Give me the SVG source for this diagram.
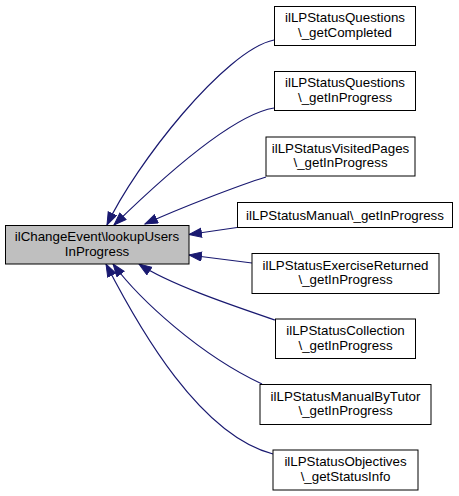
<svg xmlns="http://www.w3.org/2000/svg" width="459" height="496" viewBox="0 0 459 496">
<defs>
<marker id="ah" markerUnits="userSpaceOnUse" markerWidth="15" markerHeight="11" refX="13" refY="5" orient="auto">
<path d="M0.5,0.5 L13,5 L0.5,9.5 z" fill="#191970" stroke="#191970" stroke-width="1"/>
</marker>
<style>
.n rect{fill:#ffffff;stroke:#000000;stroke-width:1}
.m rect{fill:#bfbfbf;stroke:#000000;stroke-width:1}
text{font-family:"Liberation Sans",Arial,Helvetica,sans-serif;font-size:13.33px;fill:#000000;text-anchor:middle}
.e path{fill:none;stroke:#191970;stroke-width:1.2;marker-end:url(#ah)}
</style>
</defs>
<rect width="459" height="496" fill="#ffffff"/>
<g class="e" id="edges">
<path d="M274,40 C225,50 135,165 107,225"/>
<path d="M274,108 C230,115 155,185 114,225"/>
<path d="M266,177 C240,185 180,208 145,224"/>
<path d="M237,227.5 L189,234.5"/>
<path d="M252,263 L189,255"/>
<path d="M275,320 C240,308 170,285 139,264"/>
<path d="M262,384 C200,355 140,300 113,264"/>
<path d="M273,454 C200,435 140,330 106,264"/>
</g>
<g class="m" id="main">
<rect x="5.5" y="225.5" width="183.5" height="38.5"/>
<text x="97" y="241">ilChangeEvent\lookupUsers</text>
<text x="97" y="255.5">InProgress</text>
</g>
<g class="n" id="n1">
<rect x="274.5" y="6.5" width="141" height="39"/>
<text x="345" y="22">ilLPStatusQuestions</text>
<text x="345" y="36.5">\_getCompleted</text>
</g>
<g class="n" id="n2">
<rect x="274.5" y="71.5" width="141" height="39"/>
<text x="345" y="87">ilLPStatusQuestions</text>
<text x="345" y="101.5">\_getInProgress</text>
</g>
<g class="n" id="n3">
<rect x="266" y="137" width="149" height="39"/>
<text x="340.5" y="152.5">ilLPStatusVisitedPages</text>
<text x="340.5" y="167">\_getInProgress</text>
</g>
<g class="n" id="n4">
<rect x="237.5" y="202.5" width="215" height="25"/>
<text x="345" y="219.5">ilLPStatusManual\_getInProgress</text>
</g>
<g class="n" id="n5">
<rect x="252" y="253.5" width="187" height="40"/>
<text x="345.5" y="269.5">ilLPStatusExerciseReturned</text>
<text x="345.5" y="284">\_getInProgress</text>
</g>
<g class="n" id="n6">
<rect x="275.5" y="319" width="140" height="39.5"/>
<text x="345.5" y="335">ilLPStatusCollection</text>
<text x="345.5" y="349.5">\_getInProgress</text>
</g>
<g class="n" id="n7">
<rect x="260" y="384.5" width="171" height="40"/>
<text x="345.5" y="400.5">ilLPStatusManualByTutor</text>
<text x="345.5" y="415">\_getInProgress</text>
</g>
<g class="n" id="n8">
<rect x="273" y="450" width="145" height="40"/>
<text x="345.5" y="466">ilLPStatusObjectives</text>
<text x="345.5" y="480.5">\_getStatusInfo</text>
</g>
</svg>
